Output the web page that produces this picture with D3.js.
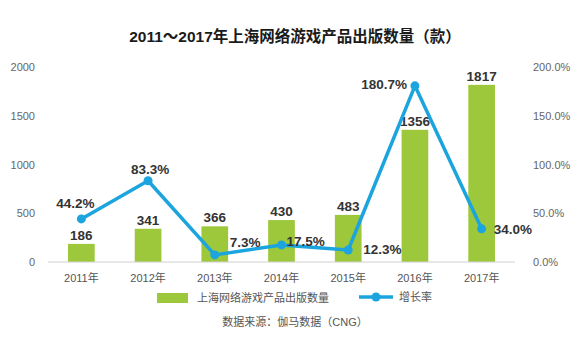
<!DOCTYPE html>
<html><head><meta charset="utf-8">
<script src="https://cdn.jsdelivr.net/npm/d3@7"></script>
<style>
body{margin:0;background:#fff;}
text{font-family:"Liberation Sans","Noto Sans CJK SC",Arial,sans-serif;}
</style></head>
<body><svg id="c" width="580" height="337"></svg>
<script>
const years = ["2011年","2012年","2013年","2014年","2015年","2016年","2017年"];
const counts = [186, 341, 366, 430, 483, 1356, 1817];
const growth = [44.2, 83.3, 7.3, 17.5, 12.3, 180.7, 34.0];
const leftTicks = [0, 500, 1000, 1500, 2000];
const rightTicks = [0, 50, 100, 150, 200];
// label placement: [dx, dy, anchor]
const growthLabelPos = [[-6,-11,"middle"],[2,-7,"middle"],[15,-8,"start"],[5,1,"start"],[15,4,"start"],[-8,3,"end"],[12,5,"start"]];

const svg = d3.select("#c");
const W = 580, H = 337;
const m = {left:48, right:65, top:67, bottom:75};
const x = d3.scaleBand().domain(years).range([m.left, W - m.right]).paddingInner(0.6).paddingOuter(0.3);
const y = d3.scaleLinear().domain([0,2000]).range([H - m.bottom, m.top]);
const y2 = d3.scaleLinear().domain([0,200]).range([H - m.bottom, m.top]);

const barColor = "#9dc83b", lineColor = "#1ca4de";

svg.append("text").attr("x",295).attr("y",42).attr("text-anchor","middle")
  .attr("font-size",15.5).attr("font-weight","bold").attr("fill","#1a1a1a")
  .text("2011～2017年上海网络游戏产品出版数量（款）");

// left axis
const ga = svg.append("g").attr("transform",`translate(${m.left-13},0)`)
  .call(d3.axisLeft(y).tickValues(leftTicks).tickSize(0).tickPadding(0).tickFormat(d3.format("d")));
ga.select(".domain").remove();
ga.selectAll("text").attr("font-size",11).attr("fill","#666").attr("font-family",null);
// right axis
const gr = svg.append("g").attr("transform",`translate(${W - m.right + 18},0)`)
  .call(d3.axisRight(y2).tickValues(rightTicks).tickSize(0).tickPadding(0).tickFormat(d => d.toFixed(1)+"%"));
gr.select(".domain").remove();
gr.selectAll("text").attr("font-size",11).attr("fill","#666").attr("font-family",null);

// bars
svg.selectAll("rect.bar").data(counts).join("rect").attr("class","bar")
  .attr("x",(d,i)=>x(years[i])).attr("width",x.bandwidth())
  .attr("y",d=>y(d)).attr("height",d=>y(0)-y(d)).attr("fill",barColor);

// baseline
svg.append("line").attr("x1",m.left).attr("x2",W-m.right).attr("y1",y(0)).attr("y2",y(0))
  .attr("stroke","#d0d0d0").attr("stroke-width",1);

// x axis labels
const gx = svg.append("g").attr("transform",`translate(0,${y(0)+4})`)
  .call(d3.axisBottom(x).tickSize(0).tickPadding(8));
gx.select(".domain").remove();
gx.selectAll("text").attr("font-size",11).attr("fill","#555").attr("font-family",null);

// bar labels
svg.selectAll("text.bl").data(counts).join("text").attr("class","bl")
  .attr("x",(d,i)=>x(years[i])+x.bandwidth()/2).attr("y",d=>y(d)-4)
  .attr("text-anchor","middle").attr("font-size",13.5).attr("font-weight","bold").attr("fill","#333")
  .text(d=>d);

// line
const cx = (i)=>x(years[i])+x.bandwidth()/2;
const line = d3.line().x((d,i)=>cx(i)).y(d=>y2(d));
svg.append("path").datum(growth).attr("d",line).attr("fill","none")
  .attr("stroke",lineColor).attr("stroke-width",3.5).attr("stroke-linejoin","round");
svg.selectAll("circle.pt").data(growth).join("circle").attr("class","pt")
  .attr("cx",(d,i)=>cx(i)).attr("cy",d=>y2(d)).attr("r",4.5).attr("fill",lineColor);

svg.selectAll("text.gl").data(growth).join("text").attr("class","gl")
  .attr("x",(d,i)=>cx(i)+growthLabelPos[i][0]).attr("y",(d,i)=>y2(d)+growthLabelPos[i][1])
  .attr("text-anchor",(d,i)=>growthLabelPos[i][2])
  .attr("font-size",13.5).attr("font-weight","bold").attr("fill","#333")
  .text(d=>d.toFixed(1)+"%");

// legend
svg.append("rect").attr("x",157).attr("y",293).attr("width",31).attr("height",10).attr("fill",barColor);
svg.append("text").attr("x",197).attr("y",302).attr("font-size",11).attr("fill","#555").text("上海网络游戏产品出版数量");
svg.append("line").attr("x1",359).attr("x2",393).attr("y1",297).attr("y2",297).attr("stroke",lineColor).attr("stroke-width",3.5);
svg.append("circle").attr("cx",376).attr("cy",297).attr("r",4.5).attr("fill",lineColor);
svg.append("text").attr("x",399).attr("y",301).attr("font-size",11).attr("fill","#555").text("增长率");
svg.append("text").attr("x",295).attr("y",326).attr("text-anchor","middle").attr("font-size",11).attr("fill","#555").text("数据来源：伽马数据（CNG）");
</script></body></html>
